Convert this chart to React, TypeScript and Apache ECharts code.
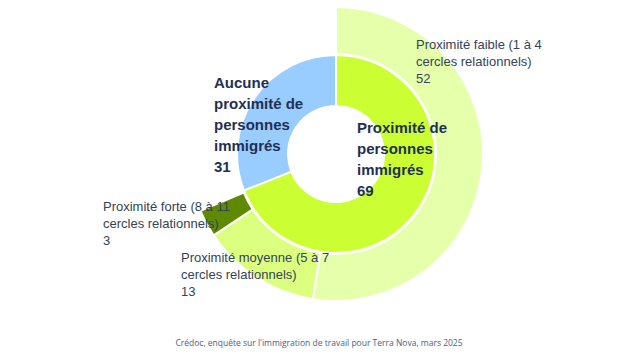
import React, { useEffect, useRef } from "react";
import * as echarts from "echarts";

const innerNames = ["Proximité de\npersonnes\nimmigrés", "Aucune\nproximité de\npersonnes\nimmigrés"];
const innerValues = [69, 31];
const innerColors = ["#CCFF33", "#99CCFF"];

const outerNames = [
  "Proximité faible (1 à 4\ncercles relationnels)",
  "Proximité moyenne (5 à 7\ncercles relationnels)",
  "Proximité forte (8 à 11\ncercles relationnels)",
  "",
];
const outerValues = [52, 13, 3, 31];
const outerColors = ["#E6FFAA", "#DDFF80", "#5F8A00", "transparent"];

const source = "Crédoc, enquête sur l'immigration de travail pour Terra Nova, mars 2025";

// label anchor positions (top-left of text block)
const innerLabelPos = [
  [357, 117],
  [214, 72],
];
const outerLabelPos = [
  [416, 36],
  [181, 249],
  [103, 198],
  [0, 0],
];

export default function App() {
  const ref = useRef<HTMLDivElement>(null);
  useEffect(() => {
    if (!ref.current) return;
    const chart = echarts.init(ref.current, null, { renderer: "svg" });
    chart.setOption({
      animation: false,
      backgroundColor: "#ffffff",
      title: {
        text: source,
        left: 314,
        top: 333,
        textAlign: "center",
        textStyle: {
          fontFamily: "Open Sans",
          fontSize: 8.5,
          fontWeight: "normal",
          color: "#4A6286",
        },
      },
      series: [
        {
          type: "pie",
          center: [336, 154],
          radius: [48, 99],
          startAngle: 90,
          clockwise: true,
          silent: true,
          emphasis: { disabled: true },
          labelLine: { show: false },
          itemStyle: { borderColor: "#ffffff", borderWidth: 2 },
          label: {
            show: true,
            formatter: (p: any) => p.name + "\n" + p.value,
            fontFamily: "Liberation Sans",
            fontSize: 15,
            fontWeight: "bold",
            lineHeight: 21,
            color: "#1F3052",
            align: "left",
            overflow: "none",
          },
          labelLayout: (p: any) => ({
            x: innerLabelPos[p.dataIndex][0],
            y: innerLabelPos[p.dataIndex][1],
            align: "left",
            verticalAlign: "top",
          }),
          data: innerValues.map((v, i) => ({
            value: v,
            name: innerNames[i],
            itemStyle: { color: innerColors[i] },
          })),
        },
        {
          type: "pie",
          center: [336, 154],
          radius: [100, 147],
          startAngle: 90,
          clockwise: true,
          silent: true,
          emphasis: { disabled: true },
          labelLine: { show: false },
          label: {
            show: true,
            formatter: (p: any) => p.name + "\n" + p.value,
            fontFamily: "Liberation Sans",
            fontSize: 13,
            lineHeight: 17,
            color: "#34425A",
            align: "left",
            overflow: "none",
            width: 200,
          },
          labelLayout: (p: any) => ({
            x: outerLabelPos[p.dataIndex][0],
            y: outerLabelPos[p.dataIndex][1],
            align: "left",
            verticalAlign: "top",
          }),
          data: outerValues.map((v, i) => ({
            value: v,
            name: outerNames[i],
            itemStyle:
              i === 3
                ? { color: "transparent", borderWidth: 0 }
                : { color: outerColors[i], borderColor: "#ffffff", borderWidth: 2 },
            label: { show: i !== 3 },
          })),
        },
      ],
    });
    return () => chart.dispose();
  }, []);
  return (
    <div
      ref={ref}
      style={{ position: "absolute", left: 0, top: 0, width: 636, height: 358 }}
    />
  );
}
